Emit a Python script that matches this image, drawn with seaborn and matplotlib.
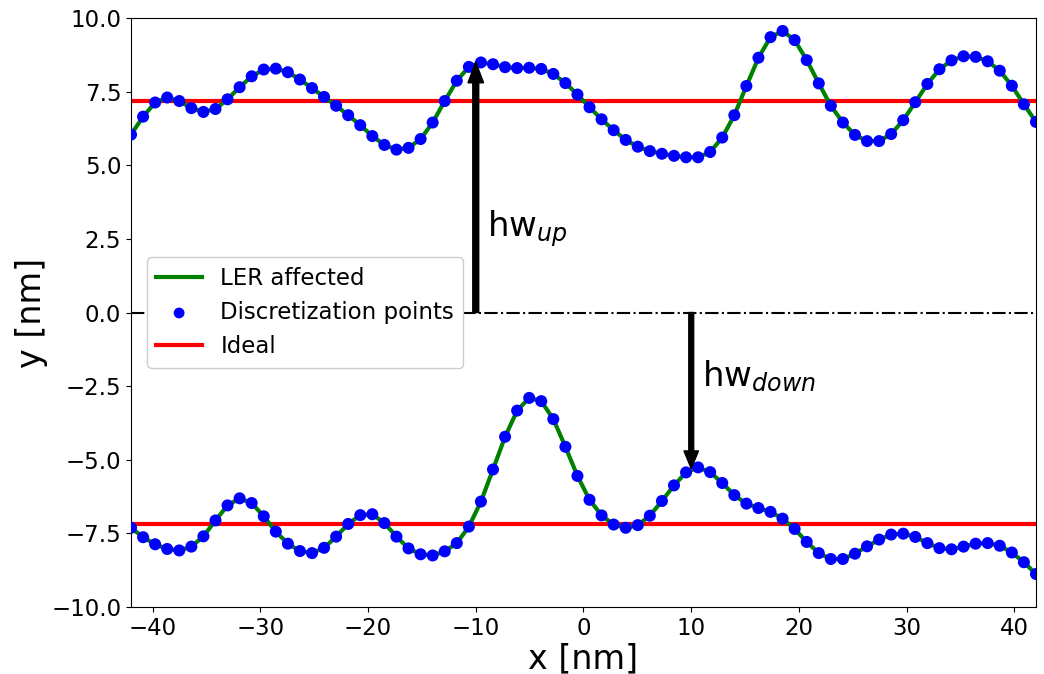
import numpy as np
import pandas as pd
import matplotlib
matplotlib.use("Agg")
import matplotlib.pyplot as plt
import seaborn as sns

# Data
x_points = np.linspace(-42, 42, 76)
upper_y = [6.04, 6.65, 7.13, 7.30, 7.18, 6.94, 6.81, 6.91, 7.24, 7.65,
           8.02, 8.25, 8.28, 8.16, 7.91, 7.62, 7.32, 7.02, 6.70, 6.36,
           5.99, 5.69, 5.53, 5.59, 5.89, 6.45, 7.18, 7.87, 8.34, 8.49,
           8.43, 8.33, 8.30, 8.31, 8.27, 8.10, 7.79, 7.40, 6.97, 6.56,
           6.19, 5.86, 5.63, 5.48, 5.39, 5.32, 5.27, 5.27, 5.45, 5.94,
           6.70, 7.69, 8.65, 9.35, 9.56, 9.25, 8.57, 7.78, 7.02, 6.45,
           6.03, 5.82, 5.82, 6.06, 6.53, 7.14, 7.76, 8.26, 8.56, 8.70,
           8.68, 8.53, 8.21, 7.70, 7.07, 6.47]
lower_y = [-7.31, -7.63, -7.87, -8.03, -8.08, -7.95, -7.60, -7.06, -6.55, -6.31,
           -6.47, -6.92, -7.44, -7.85, -8.10, -8.17, -7.99, -7.61, -7.18, -6.88,
           -6.85, -7.15, -7.61, -8.01, -8.21, -8.25, -8.11, -7.83, -7.27, -6.42,
           -5.33, -4.22, -3.33, -2.90, -3.01, -3.62, -4.56, -5.55, -6.36, -6.89,
           -7.20, -7.31, -7.22, -6.90, -6.40, -5.87, -5.43, -5.26, -5.42, -5.79,
           -6.20, -6.49, -6.64, -6.77, -7.00, -7.35, -7.79, -8.17, -8.37, -8.37,
           -8.19, -7.94, -7.71, -7.54, -7.51, -7.62, -7.83, -8.00, -8.04, -7.95,
           -7.85, -7.83, -7.92, -8.15, -8.48, -8.88]
ideal_hw = 7.18
x_range = [-42, 42]
hw_up_tip = 8.5
hw_down_tip = -5.3

df_up = pd.DataFrame({"x": x_points, "y": upper_y})
df_lo = pd.DataFrame({"x": x_points, "y": lower_y})
df_ideal_up = pd.DataFrame({"x": x_range, "y": [ideal_hw, ideal_hw]})
df_ideal_lo = pd.DataFrame({"x": x_range, "y": [-ideal_hw, -ideal_hw]})
df_zero = pd.DataFrame({"x": x_range, "y": [0, 0]})

fig = plt.figure(figsize=(10.44, 6.74), dpi=100)
ax = fig.add_axes([0.1255, 0.0994, 0.8668, 0.8739])

sns.lineplot(data=df_zero, x="x", y="y", ax=ax, color="black", lw=1.5,
             linestyle="-.", zorder=1)
sns.lineplot(data=df_up, x="x", y="y", ax=ax, color="green", lw=3,
             label="LER affected", zorder=2)
sns.lineplot(data=df_lo, x="x", y="y", ax=ax, color="green", lw=3, zorder=2)
sns.scatterplot(data=df_up, x="x", y="y", ax=ax, color="blue", s=75,
                edgecolor="none", label="Discretization points", zorder=3)
sns.scatterplot(data=df_lo, x="x", y="y", ax=ax, color="blue", s=75,
                edgecolor="none", zorder=3)
sns.lineplot(data=df_ideal_up, x="x", y="y", ax=ax, color="red", lw=3,
             label="Ideal", zorder=1.5)
sns.lineplot(data=df_ideal_lo, x="x", y="y", ax=ax, color="red", lw=3, zorder=1.5)

ax.arrow(-10, 0, 0, hw_up_tip, width=0.55, head_width=1.45, head_length=0.7,
         length_includes_head=True, color="black", zorder=4)
ax.arrow(10, 0, 0, hw_down_tip, width=0.45, head_width=1.35, head_length=0.6,
         length_includes_head=True, color="black", zorder=4)
ax.text(-9.0, 2.85, r"hw$_{up}$", fontsize=24.5, va="center", ha="left")
ax.text(11.0, -2.15, r"hw$_{down}$", fontsize=24.5, va="center", ha="left")

ax.set_xlim(-42, 42)
ax.set_ylim(-10, 10)
ax.set_yticks([-10, -7.5, -5, -2.5, 0, 2.5, 5, 7.5, 10])
ax.set_xlabel("x [nm]", fontsize=24, labelpad=2)
ax.set_ylabel("y [nm]", fontsize=24, labelpad=2)
ax.tick_params(labelsize=16.5)

ax.legend(loc="center left", fontsize=16.5, markerscale=0.9, framealpha=1,
          bbox_to_anchor=(0.005, 0.5))

fig.savefig("out.png", dpi=100)
